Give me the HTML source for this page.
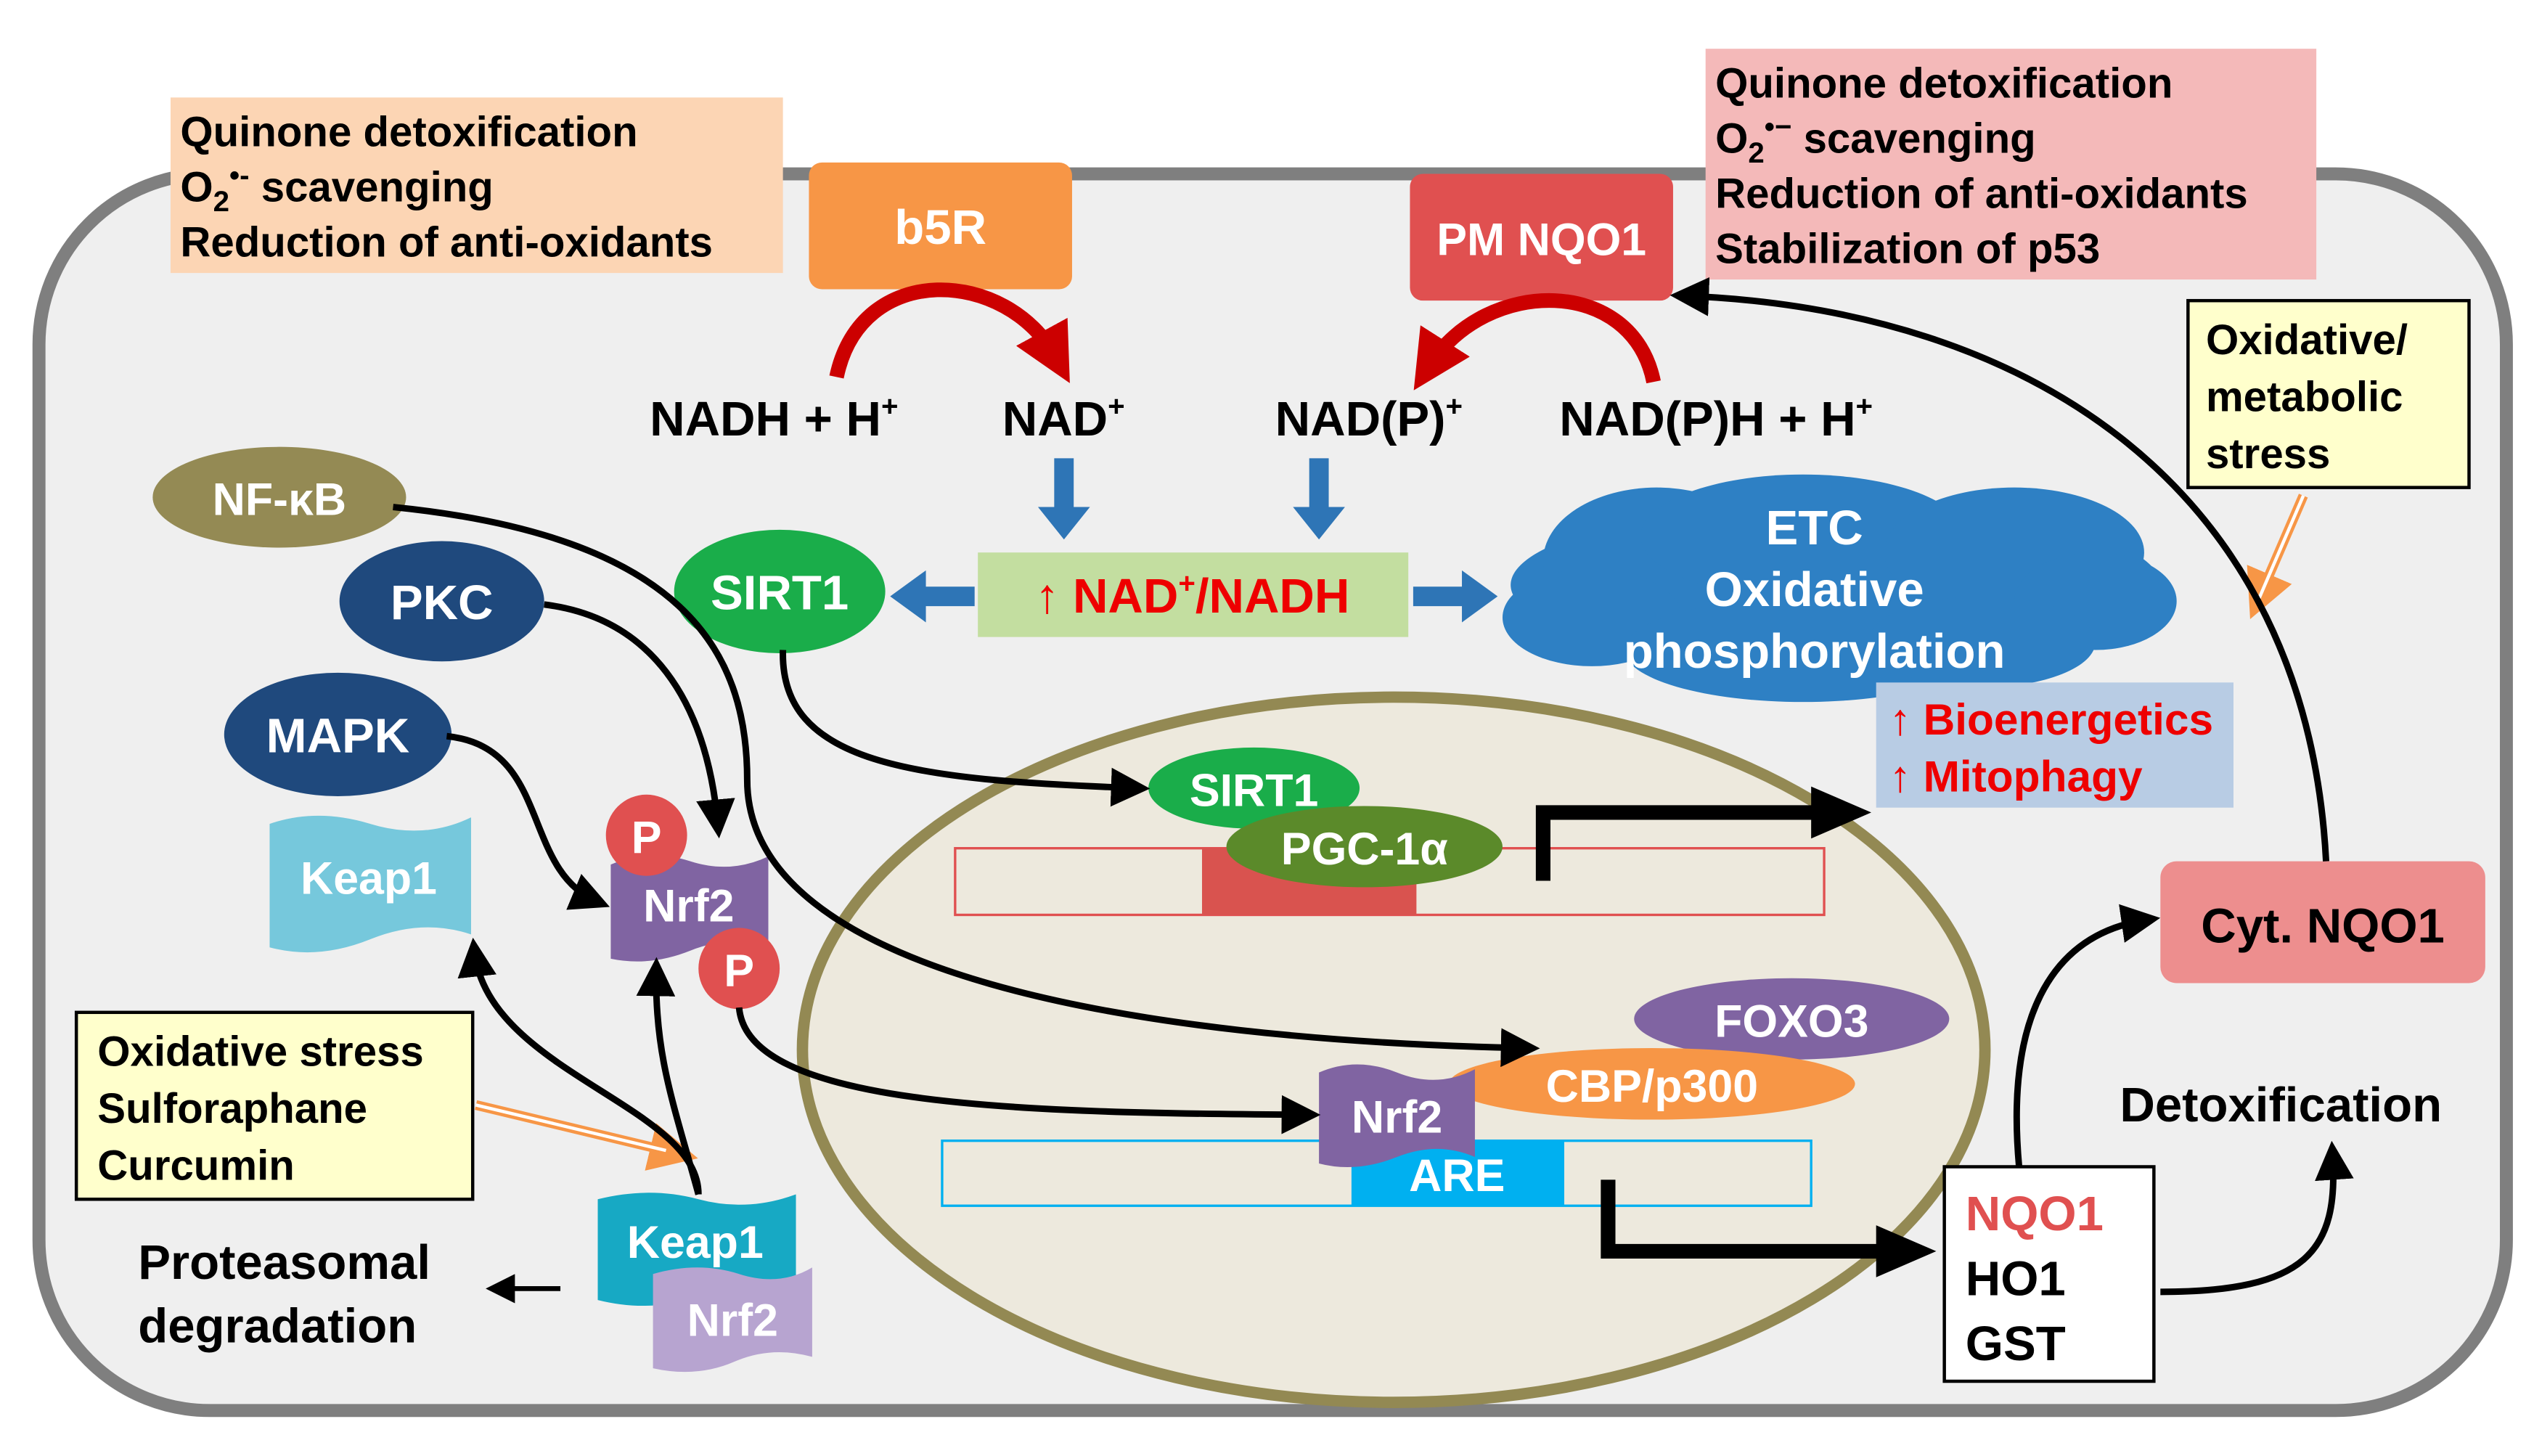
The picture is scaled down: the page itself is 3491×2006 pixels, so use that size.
<!DOCTYPE html>
<html><head><meta charset="utf-8"><style>
html,body{margin:0;padding:0;background:#fff;}
svg{display:block;}
text{font-family:"Liberation Sans",Arial,sans-serif;font-weight:bold;}
</style></head><body>
<svg width="3491" height="2006" viewBox="0 0 1560 896" preserveAspectRatio="none" xmlns="http://www.w3.org/2000/svg">
<defs>
<marker id="ah" markerWidth="6" markerHeight="6" refX="4" refY="3" orient="auto" markerUnits="strokeWidth"><path d="M0,0 L6,3 L0,6 z" fill="#000"/></marker>
<marker id="ahr" markerWidth="4" markerHeight="4" refX="2" refY="2" orient="auto" markerUnits="strokeWidth"><path d="M0,0 L4,2 L0,4 z" fill="#c00"/></marker>
<marker id="ahb" markerWidth="3" markerHeight="3" refX="1.5" refY="1.5" orient="auto" markerUnits="strokeWidth"><path d="M0,0 L3,1.5 L0,3 z" fill="#000"/></marker>
<marker id="aho" markerWidth="5" markerHeight="5" refX="3" refY="2.5" orient="auto" markerUnits="strokeWidth"><path d="M0,0 L5,2.5 L0,5 z" fill="#f79646"/></marker>
</defs>
<rect width="1560" height="896" fill="#fff"/>
<!-- cell -->
<rect x="24" y="107" width="1519" height="761" rx="105" fill="#efefef" stroke="#7f7f7f" stroke-width="8"/>
<!-- top boxes -->
<rect x="105" y="60" width="377" height="108" fill="#fcd5b4"/>
<text x="111" y="90" font-size="26">Quinone detoxification</text>
<text x="111" y="124" font-size="26">O<tspan font-size="18" dy="6">2</tspan><tspan font-size="18" dy="-16">•-</tspan><tspan dy="10"> scavenging</tspan></text>
<text x="111" y="158" font-size="26">Reduction of anti-oxidants</text>
<rect x="1050" y="30" width="376" height="142" fill="#f4b9b9"/>
<text x="1056" y="60" font-size="26">Quinone detoxification</text>
<text x="1056" y="94" font-size="26">O<tspan font-size="18" dy="6">2</tspan><tspan font-size="18" dy="-16">•−</tspan><tspan dy="10"> scavenging</tspan></text>
<text x="1056" y="128" font-size="26">Reduction of anti-oxidants</text>
<text x="1056" y="162" font-size="26">Stabilization of p53</text>
<!-- b5R, PM NQO1 -->
<rect x="498" y="100" width="162" height="78" rx="8" fill="#f79646"/>
<text x="579" y="150" font-size="30" fill="#fff" text-anchor="middle">b5R</text>
<rect x="868" y="107" width="162" height="78" rx="8" fill="#e05050"/>
<text x="949" y="157" font-size="28" fill="#fff" text-anchor="middle">PM NQO1</text>
<path d="M515,232 C530,160 620,165 650,220" fill="none" stroke="#c00" stroke-width="9" marker-end="url(#ahr)"/>
<path d="M1018,235 C1005,170 915,170 880,225" fill="none" stroke="#c00" stroke-width="9" marker-end="url(#ahr)"/>
<text x="400" y="268" font-size="30">NADH + H<tspan font-size="18" dy="-12">+</tspan></text>
<text x="617" y="268" font-size="30">NAD<tspan font-size="18" dy="-12">+</tspan></text>
<text x="785" y="268" font-size="30">NAD(P)<tspan font-size="18" dy="-12">+</tspan></text>
<text x="960" y="268" font-size="30">NAD(P)H + H<tspan font-size="18" dy="-12">+</tspan></text>
<!-- blue arrows -->
<path d="M649,282 h12 v30 h10 l-16,20 l-16,-20 h10 z" fill="#2e75b6"/>
<path d="M806,282 h12 v30 h10 l-16,20 l-16,-20 h10 z" fill="#2e75b6"/>
<path d="M600,361 h-30 v-10 l-22,16 l22,16 v-10 h30 z" fill="#2e75b6"/>
<path d="M870,361 h30 v-10 l22,16 l-22,16 v-10 h-30 z" fill="#2e75b6"/>
<rect x="602" y="340" width="265" height="52" fill="#c3dea0"/>
<text x="734" y="377" font-size="30" fill="#e00" text-anchor="middle">↑ NAD<tspan font-size="18" dy="-12">+</tspan><tspan dy="12">/NADH</tspan></text>
<ellipse cx="480" cy="364" rx="65" ry="38" fill="#1aad4a"/>
<text x="480" y="375" font-size="30" fill="#fff" text-anchor="middle">SIRT1</text>
<!-- cloud -->
<g fill="#2e80c4">
<ellipse cx="1130" cy="360" rx="200" ry="50"/>
<ellipse cx="1020" cy="345" rx="70" ry="45"/>
<ellipse cx="1110" cy="330" rx="100" ry="38"/>
<ellipse cx="1240" cy="340" rx="80" ry="40"/>
<ellipse cx="1290" cy="370" rx="50" ry="30"/>
<ellipse cx="980" cy="380" rx="55" ry="30"/>
<ellipse cx="1110" cy="400" rx="110" ry="32"/>
<ellipse cx="1220" cy="395" rx="70" ry="28"/>
</g>
<text x="1117" y="335" font-size="30" fill="#fff" text-anchor="middle">ETC</text>
<text x="1117" y="373" font-size="30" fill="#fff" text-anchor="middle">Oxidative</text>
<text x="1117" y="411" font-size="30" fill="#fff" text-anchor="middle">phosphorylation</text>
<rect x="1155" y="420" width="220" height="77" fill="#b8cce4"/>
<text x="1163" y="452" font-size="27" fill="#e00">↑ Bioenergetics</text>
<text x="1163" y="487" font-size="27" fill="#e00">↑ Mitophagy</text>
<rect x="1347" y="185" width="173" height="115" fill="#ffffcc" stroke="#000" stroke-width="2"/>
<text x="1358" y="218" font-size="26">Oxidative/</text>
<text x="1358" y="253" font-size="26">metabolic</text>
<text x="1358" y="288" font-size="26">stress</text>
<path d="M1418,305 L1390,370" stroke="#f79646" stroke-width="6" fill="none" marker-end="url(#aho)"/>
<path d="M1418,305 L1390,370" stroke="#fff" stroke-width="2" fill="none"/>
<!-- nucleus -->
<ellipse cx="858" cy="646" rx="364" ry="217" fill="#ede9dd" stroke="#938953" stroke-width="7"/>
<rect x="588" y="522" width="535" height="41" fill="none" stroke="#e05050" stroke-width="1.5"/>
<rect x="740" y="522" width="132" height="41" fill="#d9534f"/>
<ellipse cx="772" cy="485" rx="65" ry="25" fill="#1aad4a"/>
<text x="772" y="496" font-size="28" fill="#fff" text-anchor="middle">SIRT1</text>
<ellipse cx="840" cy="521" rx="85" ry="25" fill="#5b8a2a"/>
<text x="840" y="532" font-size="28" fill="#fff" text-anchor="middle">PGC-1α</text>
<path d="M950,542 V500 H1120" fill="none" stroke="#000" stroke-width="9"/>
<path d="M1115,484 L1152,500 L1115,516 z" fill="#000"/>
<rect x="580" y="702" width="535" height="40" fill="none" stroke="#00b0f0" stroke-width="1.5"/>
<rect x="832" y="702" width="131" height="40" fill="#00b0f0"/>
<text x="897" y="733" font-size="28" fill="#fff" text-anchor="middle">ARE</text>
<ellipse cx="1103" cy="627" rx="97" ry="25" fill="#8064a2"/>
<text x="1103" y="638" font-size="28" fill="#fff" text-anchor="middle">FOXO3</text>
<ellipse cx="1017" cy="667" rx="125" ry="22" fill="#f79646"/>
<text x="1017" y="678" font-size="28" fill="#fff" text-anchor="middle">CBP/p300</text>
<path d="M812,660 Q835,650 860,660 T908,658 V712 Q885,702 860,712 T812,716 z" fill="#8064a2"/>
<text x="860" y="697" font-size="28" fill="#fff" text-anchor="middle">Nrf2</text>
<path d="M990,726 V770 H1160" fill="none" stroke="#000" stroke-width="9"/>
<path d="M1155,754 L1192,770 L1155,786 z" fill="#000"/>
<rect x="1197" y="718" width="129" height="132" fill="#fff" stroke="#000" stroke-width="2"/>
<text x="1210" y="757" font-size="30" fill="#e05050">NQO1</text>
<text x="1210" y="797" font-size="30">HO1</text>
<text x="1210" y="837" font-size="30">GST</text>
<rect x="1330" y="530" width="200" height="75" rx="10" fill="#ed8e8e"/>
<text x="1430" y="580" font-size="30" text-anchor="middle">Cyt. NQO1</text>
<text x="1305" y="690" font-size="30">Detoxification</text>
<path d="M1243,718 C1235,630 1260,575 1322,566" fill="none" stroke="#000" stroke-width="4" marker-end="url(#ah)"/>
<path d="M1432,530 C1420,300 1250,190 1036,182" fill="none" stroke="#000" stroke-width="4" marker-end="url(#ah)"/>
<path d="M1330,795 C1420,795 1440,770 1436,710" fill="none" stroke="#000" stroke-width="4" marker-end="url(#ah)"/>
<!-- left signaling -->
<ellipse cx="172" cy="306" rx="78" ry="31" fill="#948a54"/>
<text x="172" y="317" font-size="28" fill="#fff" text-anchor="middle">NF-κB</text>
<ellipse cx="272" cy="370" rx="63" ry="37" fill="#1f497d"/>
<text x="272" y="381" font-size="30" fill="#fff" text-anchor="middle">PKC</text>
<ellipse cx="208" cy="452" rx="70" ry="38" fill="#1f497d"/>
<text x="208" y="463" font-size="30" fill="#fff" text-anchor="middle">MAPK</text>
<path d="M166,507 Q195,497 228,507 T290,503 V575 Q260,565 228,578 T166,583 z" fill="#76c8dc"/>
<text x="227" y="550" font-size="28" fill="#fff" text-anchor="middle">Keap1</text>
<path d="M376,532 Q400,522 425,530 T473,527 V583 Q450,575 425,585 T376,590 z" fill="#8064a2"/>
<text x="424" y="567" font-size="28" fill="#fff" text-anchor="middle">Nrf2</text>
<circle cx="398" cy="514" r="25" fill="#e05050"/>
<text x="398" y="525" font-size="28" fill="#fff" text-anchor="middle">P</text>
<circle cx="455" cy="596" r="25" fill="#e05050"/>
<text x="455" y="607" font-size="28" fill="#fff" text-anchor="middle">P</text>
<rect x="47" y="623" width="244" height="115" fill="#ffffcc" stroke="#000" stroke-width="2"/>
<text x="60" y="656" font-size="26">Oxidative stress</text>
<text x="60" y="691" font-size="26">Sulforaphane</text>
<text x="60" y="726" font-size="26">Curcumin</text>
<path d="M293,680 L418,710" stroke="#f79646" stroke-width="6" fill="none" marker-end="url(#aho)"/>
<path d="M293,680 L410,708" stroke="#fff" stroke-width="2" fill="none"/>
<path d="M368,738 Q400,730 430,738 T490,735 V795 Q460,788 430,798 T368,800 z" fill="#17a9c4"/>
<text x="428" y="774" font-size="28" fill="#fff" text-anchor="middle">Keap1</text>
<path d="M402,784 Q430,776 455,784 T500,780 V835 Q475,828 452,838 T402,842 z" fill="#b7a4d0"/>
<text x="451" y="822" font-size="28" fill="#fff" text-anchor="middle">Nrf2</text>
<text x="85" y="787" font-size="30">Proteasomal</text>
<text x="85" y="826" font-size="30">degradation</text>
<path d="M345,793 H305" stroke="#000" stroke-width="3" marker-end="url(#ah)"/>
<!-- curves -->
<g fill="none" stroke="#000" stroke-width="4">
<path d="M242,312 C420,330 460,400 460,480 C460,600 700,640 940,645" marker-end="url(#ah)"/>
<path d="M335,372 C400,380 435,430 442,508" marker-end="url(#ah)"/>
<path d="M275,453 C340,460 320,535 368,555" marker-end="url(#ah)"/>
<path d="M482,400 C480,470 560,480 700,485" marker-end="url(#ah)"/>
<path d="M455,620 C460,680 620,685 805,686" marker-end="url(#ah)"/>
<path d="M430,735 C430,680 300,660 292,585" marker-end="url(#ah)"/>
<path d="M430,735 C415,680 403,650 404,597" marker-end="url(#ah)"/>
</g>
</svg>
</body></html>
